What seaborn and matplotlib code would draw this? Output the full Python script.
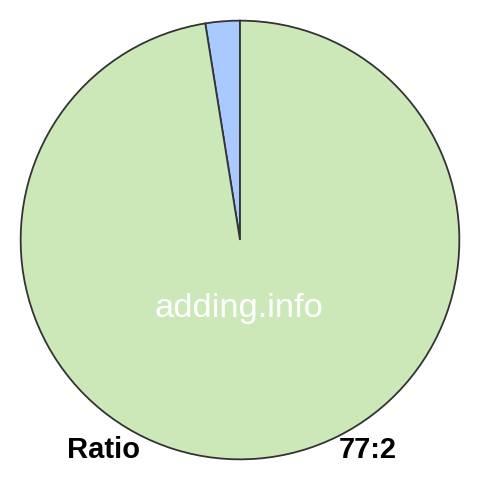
import matplotlib
matplotlib.use("Agg")
import matplotlib.pyplot as plt
import seaborn as sns

sns.set_theme(style="white")
plt.rcParams['font.family'] = ['Liberation Sans', 'DejaVu Sans']

# two parts of the ratio 77:2, small one drawn first from the top
labels = ["2", "77"]
values = [2, 77]
colors = ["#aac9ff", "#cde8b8"]

fig = plt.figure(figsize=(4.8, 4.8), dpi=100)
ax = fig.add_axes([20 / 480, 20 / 480, 440 / 480, 440 / 480])
ax.pie(values, colors=colors, startangle=90, counterclock=True,
       wedgeprops=dict(edgecolor="#333333", linewidth=1.3))
ax.set_xlim(-1.003, 1.003)
ax.set_ylim(-1.003, 1.003)
ax.set_aspect("equal")
ax.axis("off")

fig.text(239 / 480, 163 / 480, "adding.info", color="white", fontsize=24.8,
         ha="center", va="baseline")
fig.text(67 / 480, 22 / 480, "Ratio", color="black", fontsize=21,
         fontweight="bold", ha="left", va="baseline")
fig.text(397 / 480, 22 / 480, "77:2", color="black", fontsize=21,
         fontweight="bold", ha="right", va="baseline")

fig.savefig("out.png", dpi=100, facecolor="white")
